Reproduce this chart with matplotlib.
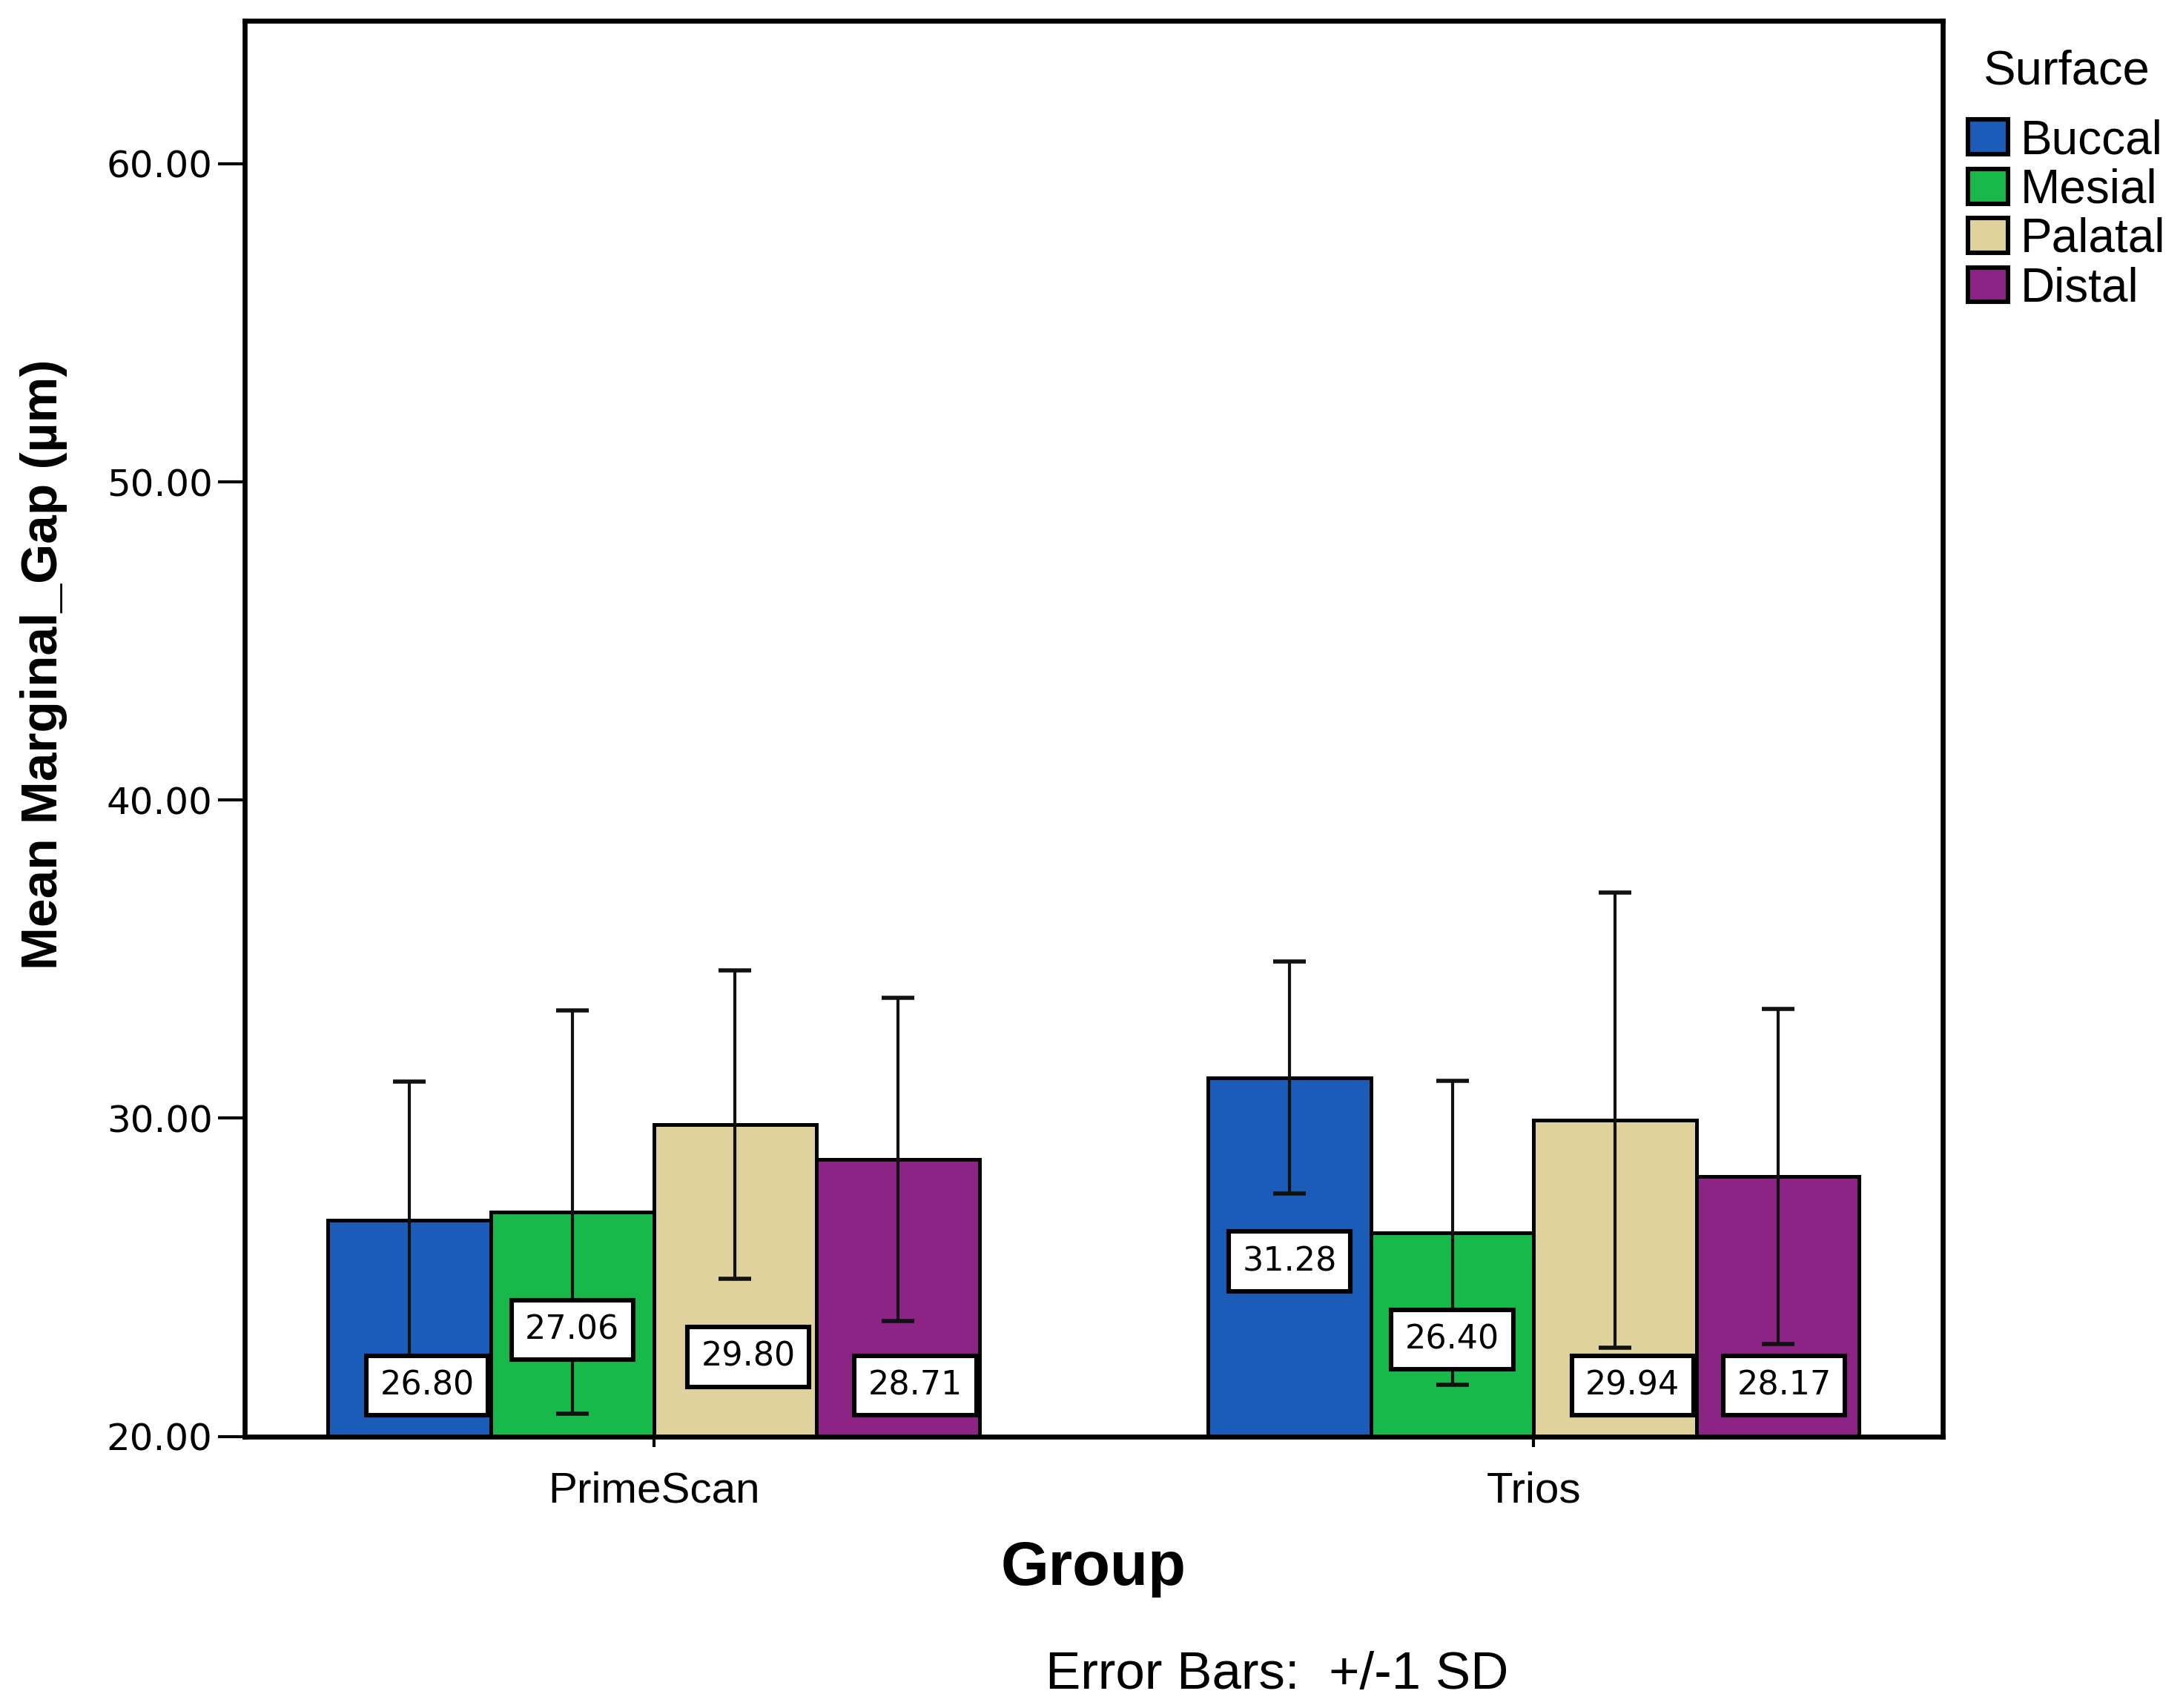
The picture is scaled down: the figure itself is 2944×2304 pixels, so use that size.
import numpy as np
import matplotlib
matplotlib.use("Agg")
import matplotlib.pyplot as plt
from matplotlib.patches import Patch
from matplotlib.ticker import FormatStrFormatter

# values (mean marginal gap, SD from error bars)
groups = ["PrimeScan", "Trios"]
surfaces = ["Buccal", "Mesial", "Palatal", "Distal"]
means = {
    "Buccal": [26.80, 31.28],
    "Mesial": [27.06, 26.40],
    "Palatal": [29.80, 29.94],
    "Distal": [28.71, 28.17],
}
sds = {
    "Buccal": [4.35, 3.65],
    "Mesial": [6.34, 4.77],
    "Palatal": [4.84, 7.15],
    "Distal": [5.08, 5.26],
}

# styling / label placement
colors = {"Buccal": "#1a5cb8", "Mesial": "#19b84a", "Palatal": "#dfd29c", "Distal": "#8c2486"}
label_y = {
    "Buccal": [21.6, 25.5],
    "Mesial": [23.35, 23.05],
    "Palatal": [22.5, 21.6],
    "Distal": [21.6, 21.6],
}
label_dx = {
    "Buccal": [0.02, 0.0],
    "Mesial": [0.0, 0.0],
    "Palatal": [0.015, 0.02],
    "Distal": [0.02, 0.007],
}

fig = plt.figure(figsize=(14.72, 11.52), dpi=200)
ax = fig.add_axes([0.112, 0.159, 0.778, 0.829])

x = np.arange(len(groups))
w = 0.185
for i, s in enumerate(surfaces):
    xs = x + (i - 1.5) * w
    ax.bar(xs, means[s], width=w, color=colors[s], edgecolor="black",
           linewidth=1.8, zorder=2)
    ax.errorbar(xs, means[s], yerr=sds[s], fmt="none", ecolor="#111111",
                elinewidth=1.5, capsize=8, capthick=2.0, zorder=3)
    for j in range(len(groups)):
        ax.text(xs[j] + label_dx[s][j], label_y[s][j], f"{means[s][j]:.2f}",
                ha="center", va="center", fontsize=16, family="DejaVu Sans",
                zorder=4,
                bbox=dict(boxstyle="square,pad=0.42", facecolor="white",
                          edgecolor="black", linewidth=2.2))

ax.set_xlim(-0.465, 1.465)
ax.set_ylim(20, 64.5)
ax.set_yticks([20, 30, 40, 50, 60])
ax.yaxis.set_major_formatter(FormatStrFormatter("%.2f"))
ax.set_xticks([0, 1])
ax.set_xticklabels(groups, fontsize=21, family="Liberation Sans")
ax.tick_params(axis="x", length=5, width=1.5, pad=12)
ax.tick_params(axis="y", length=13, width=1.5, pad=2.5, labelsize=18)
for sp in ax.spines.values():
    sp.set_linewidth(2.4)

fig.text(0.020, 0.611, "Mean Marginal_Gap (µm)", rotation=90, ha="center",
         va="center", fontsize=25, fontweight="bold", family="Liberation Sans")
fig.text(0.501, 0.0815, "Group", ha="center", va="center", fontsize=30,
         fontweight="bold", family="Liberation Sans")
fig.text(0.585, 0.019, "Error Bars:  +/-1 SD", ha="center", va="center",
         fontsize=25.5, family="Liberation Sans")

handles = [Patch(facecolor=colors[s], edgecolor="black", linewidth=2.2) for s in surfaces]
leg = fig.legend(handles, surfaces, title="Surface", loc="upper left",
                 bbox_to_anchor=(0.9015, 0.971), frameon=False,
                 prop={"family": "Liberation Sans", "size": 23},
                 title_fontproperties={"family": "Liberation Sans", "size": 23.5},
                 handlelength=0.85, handleheight=0.75, handletextpad=0.25,
                 labelspacing=0.1, borderpad=0.0, borderaxespad=0.0)
leg._legend_box.sep = 12

fig.savefig("out.png", dpi=200)
